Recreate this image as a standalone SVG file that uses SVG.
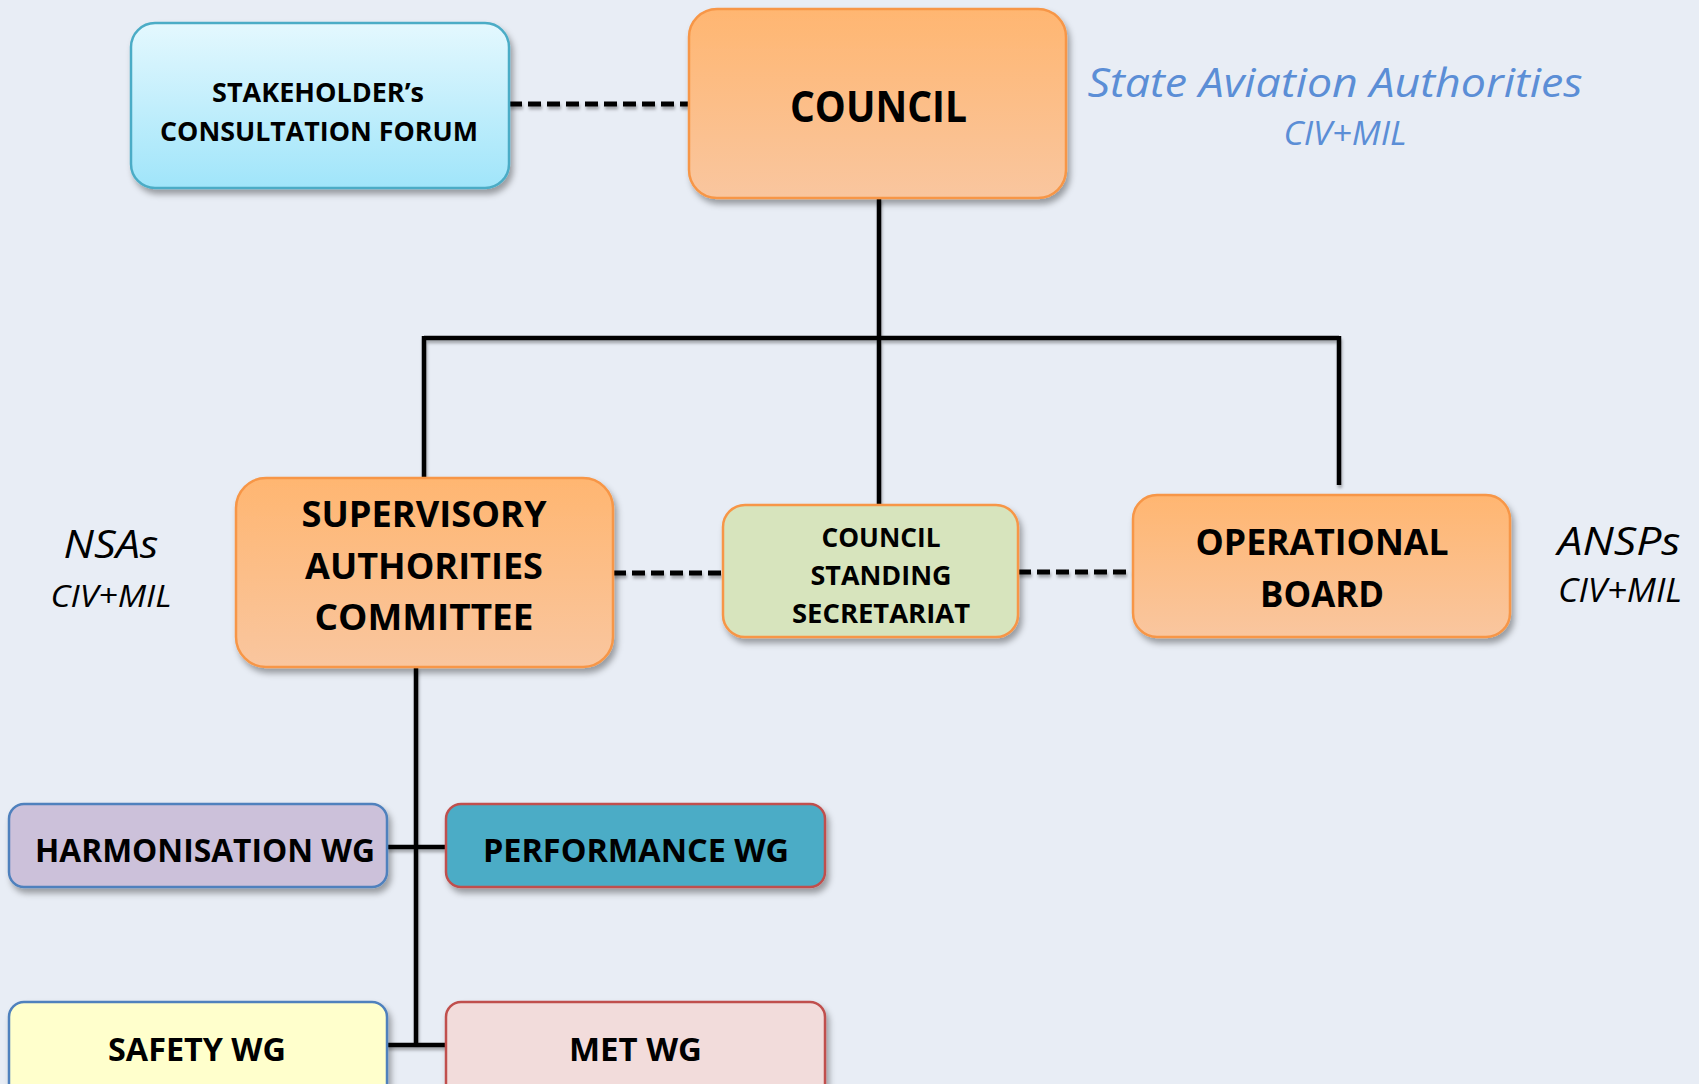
<svg xmlns="http://www.w3.org/2000/svg" width="1699" height="1084" viewBox="0 0 1699 1084">
<defs>
<linearGradient id="gOrange" x1="0" y1="0" x2="0" y2="1"><stop offset="0" stop-color="#FFB671"/><stop offset="1" stop-color="#F9C69F"/></linearGradient>
<linearGradient id="gCyan" x1="0" y1="0" x2="0" y2="1"><stop offset="0" stop-color="#E4F8FE"/><stop offset="1" stop-color="#A0E5FA"/></linearGradient>
<filter id="sh" x="-10%" y="-10%" width="130%" height="140%"><feDropShadow dx="3" dy="5" stdDeviation="3" flood-color="#000" flood-opacity="0.35"/></filter>
<filter id="lsh" x="-20%" y="-20%" width="140%" height="140%"><feDropShadow dx="1" dy="3" stdDeviation="1.5" flood-color="#000" flood-opacity="0.3"/></filter>
</defs>
<style>
.b{font-family:"Open Sans","Noto Sans","Liberation Sans",sans-serif;font-weight:bold;fill:#000;text-anchor:middle}
.i{font-family:"Open Sans","Noto Sans","Liberation Sans",sans-serif;font-style:italic;text-anchor:middle}
.sol{stroke:#000;stroke-width:4.5;fill:none}
.dash{stroke:#000;stroke-width:5;fill:none;stroke-dasharray:13 6}
.orange{fill:url(#gOrange);stroke:#F79646;stroke-width:2.5}
</style>
<rect width="1699" height="1084" fill="#E8EDF5"/>

<g id="connectors" filter="url(#lsh)">
<path class="sol" d="M879 198 V338"/>
<path class="sol" d="M424 338 H1339" stroke-width="5"/>
<path class="sol" d="M424 336 V478"/>
<path class="sol" d="M879 338 V505"/>
<path class="sol" d="M1339 336 V485"/>
<path class="sol" d="M416 667 V1047"/>
<path class="sol" d="M387 847 H446"/>
<path class="sol" d="M387 1045 H446"/>
<path class="dash" d="M509 104 H689"/>
<path class="dash" d="M613 573 H723"/>
<path class="dash" d="M1018 572 H1133"/>
</g>

<g id="stakeholder">
<rect x="131" y="23" width="378" height="165" rx="24" fill="url(#gCyan)" stroke="#4BACC6" stroke-width="2.5" filter="url(#sh)"/>
<text class="b" x="318" y="102" font-size="26" textLength="212" lengthAdjust="spacingAndGlyphs">STAKEHOLDER’s</text>
<text class="b" x="319" y="141" font-size="26" textLength="318" lengthAdjust="spacingAndGlyphs">CONSULTATION FORUM</text>
</g>

<g id="council">
<rect x="689" y="9" width="377" height="189" rx="28" class="orange" filter="url(#sh)"/>
<text class="b" x="878.5" y="122" font-size="43" textLength="177" lengthAdjust="spacingAndGlyphs">COUNCIL</text>
</g>

<g id="state-label">
<text class="i" x="1335" y="97" font-size="40" fill="#5B8ED6" textLength="495" lengthAdjust="spacingAndGlyphs">State Aviation Authorities</text>
<text class="i" x="1345" y="145" font-size="32" fill="#5B8ED6" textLength="123" lengthAdjust="spacingAndGlyphs">CIV+MIL</text>
</g>

<g id="sac">
<rect x="236" y="478" width="377" height="189" rx="30" class="orange" filter="url(#sh)"/>
<text class="b" x="424" y="527" font-size="36" textLength="245" lengthAdjust="spacingAndGlyphs">SUPERVISORY</text>
<text class="b" x="424" y="579" font-size="36" textLength="238" lengthAdjust="spacingAndGlyphs">AUTHORITIES</text>
<text class="b" x="424" y="630" font-size="36" textLength="219" lengthAdjust="spacingAndGlyphs">COMMITTEE</text>
</g>

<g id="nsas-label">
<text class="i" x="111" y="558" font-size="39" fill="#000" textLength="95" lengthAdjust="spacingAndGlyphs">NSAs</text>
<text class="i" x="111" y="607" font-size="31" fill="#000" textLength="121" lengthAdjust="spacingAndGlyphs">CIV+MIL</text>
</g>

<g id="css">
<rect x="723" y="505" width="295" height="132" rx="22" fill="#D7E4BD" stroke="#F79646" stroke-width="2.5" filter="url(#sh)"/>
<text class="b" x="881" y="547" font-size="26" textLength="119" lengthAdjust="spacingAndGlyphs">COUNCIL</text>
<text class="b" x="881" y="585" font-size="26" textLength="141" lengthAdjust="spacingAndGlyphs">STANDING</text>
<text class="b" x="881" y="623" font-size="26" textLength="178" lengthAdjust="spacingAndGlyphs">SECRETARIAT</text>
</g>

<g id="operational-board">
<rect x="1133" y="495" width="377" height="142" rx="24" class="orange" filter="url(#sh)"/>
<text class="b" x="1322" y="555" font-size="36" textLength="253" lengthAdjust="spacingAndGlyphs">OPERATIONAL</text>
<text class="b" x="1322" y="607" font-size="36" textLength="124" lengthAdjust="spacingAndGlyphs">BOARD</text>
</g>

<g id="ansps-label">
<text class="i" x="1619" y="555" font-size="39" fill="#000" textLength="123" lengthAdjust="spacingAndGlyphs">ANSPs</text>
<text class="i" x="1620" y="602" font-size="32" fill="#000" textLength="124" lengthAdjust="spacingAndGlyphs">CIV+MIL</text>
</g>

<g id="harmonisation-wg">
<rect x="9" y="804" width="378" height="83" rx="15" fill="#CCC1DA" stroke="#4F81BD" stroke-width="2.5" filter="url(#sh)"/>
<text class="b" x="205" y="862" font-size="32" textLength="340" lengthAdjust="spacingAndGlyphs">HARMONISATION WG</text>
</g>

<g id="performance-wg">
<rect x="446" y="804" width="379" height="83" rx="15" fill="#4BACC6" stroke="#C0504D" stroke-width="2.5" filter="url(#sh)"/>
<text class="b" x="636" y="862" font-size="32" textLength="306" lengthAdjust="spacingAndGlyphs">PERFORMANCE WG</text>
</g>

<g id="safety-wg">
<rect x="9" y="1002" width="378" height="100" rx="15" fill="#FFFFCC" stroke="#4F81BD" stroke-width="2.5" filter="url(#sh)"/>
<text class="b" x="197" y="1061" font-size="32" textLength="178" lengthAdjust="spacingAndGlyphs">SAFETY WG</text>
</g>

<g id="met-wg">
<rect x="446" y="1002" width="379" height="100" rx="15" fill="#F2DCDB" stroke="#C0504D" stroke-width="2.5" filter="url(#sh)"/>
<text class="b" x="635.5" y="1061" font-size="32" textLength="133" lengthAdjust="spacingAndGlyphs">MET WG</text>
</g>
</svg>
